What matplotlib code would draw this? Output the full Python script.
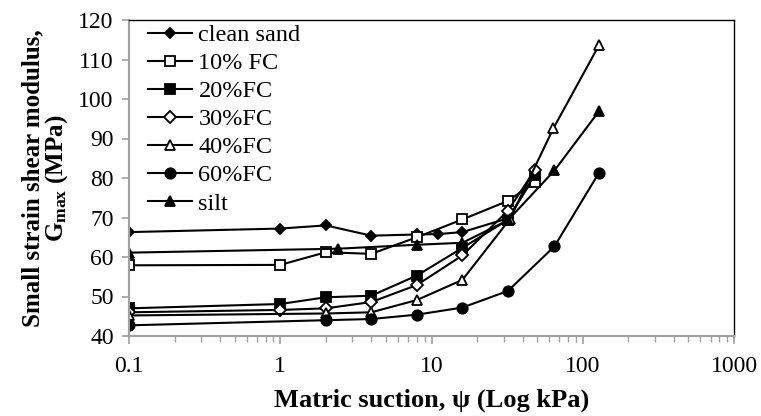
import matplotlib
matplotlib.use("Agg")
import matplotlib.pyplot as plt
from matplotlib.ticker import LogLocator, FixedLocator, NullFormatter

# ---- data ----
labels = ["clean sand", "10% FC", "20%FC", "30%FC", "40%FC", "60%FC", "silt"]

x_clean = [0.1, 1, 2, 4, 8, 11, 16, 32, 48]
y_clean = [66.3, 67.2, 68.0, 65.4, 65.7, 65.8, 66.3, 69.8, 80.3]

x_fc10 = [0.1, 1, 2, 4, 8, 16, 32, 48]
y_fc10 = [57.9, 58.0, 61.2, 60.8, 65.0, 69.5, 74.2, 78.9]

x_fc20 = [0.1, 1, 2, 4, 8, 16, 32, 48]
y_fc20 = [47.0, 48.1, 49.8, 50.2, 55.3, 62.3, 69.4, 80.8]

x_fc30 = [0.1, 1, 2, 4, 8, 16, 32, 48]
y_fc30 = [46.0, 46.6, 47.0, 48.6, 52.9, 60.4, 71.7, 81.9]

x_fc40 = [0.1, 2, 4, 8, 16, 33, 64, 128]
y_fc40 = [45.2, 45.7, 46.0, 49.1, 54.2, 69.6, 92.6, 113.6]

x_fc60 = [0.1, 2, 4, 8, 16, 32, 65, 128]
y_fc60 = [42.7, 44.0, 44.3, 45.4, 47.2, 51.4, 62.7, 81.3]

x_silt = [0.1, 2.4, 8, 16, 32, 65, 128]
y_silt = [61.1, 62.1, 63.1, 63.6, 69.3, 81.9, 96.9]

xs = [x_clean, x_fc10, x_fc20, x_fc30, x_fc40, x_fc60, x_silt]
ys = [y_clean, y_fc10, y_fc20, y_fc30, y_fc40, y_fc60, y_silt]
markers = ["D", "s", "s", "D", "^", "o", "^"]
fills = ["k", "w", "k", "w", "w", "k", "k"]
msizes = [5.5, 7, 7, 6, 7, 7.5, 7.5]

x_ticks = [0.1, 1, 10, 100, 1000]
x_ticklabels = ["0.1", "1", "10", "100", "1000"]
y_ticks = [40, 50, 60, 70, 80, 90, 100, 110, 120]

plt.rcParams["font.family"] = ["Liberation Serif", "DejaVu Serif"]
plt.rcParams["mathtext.fontset"] = "custom"
plt.rcParams["mathtext.rm"] = "Liberation Serif"
plt.rcParams["mathtext.bf"] = "Liberation Serif:bold"

fig = plt.figure(figsize=(7.61, 4.16), dpi=100)
ax = fig.add_axes([129/761, 1 - 336/416, 605/761, 316/416])

for x, y, m, f, ms, lab in zip(xs, ys, markers, fills, msizes, labels):
    ax.plot(x, y, color="k", lw=1.5, marker=m, markersize=ms,
            markerfacecolor=f, markeredgecolor="k", markeredgewidth=1.3,
            label=lab)

ax.set_xscale("log")
ax.set_xlim(0.1, 1000)
ax.set_ylim(40, 120)
ax.xaxis.set_major_locator(FixedLocator(x_ticks))
ax.set_xticklabels(x_ticklabels)
ax.xaxis.set_minor_locator(LogLocator(base=10, subs=range(2, 10)))
ax.xaxis.set_minor_formatter(NullFormatter())
ax.set_yticks(y_ticks)

grey = "#a0a0a0"
for s in ["left", "bottom"]:
    ax.spines[s].set_color(grey)
    ax.spines[s].set_linewidth(1.5)
for s in ["top", "right"]:
    ax.spines[s].set_color("k")
    ax.spines[s].set_linewidth(1.0)

ax.tick_params(axis="y", which="major", direction="out", color=grey,
               width=1.2, length=5, labelsize=17, pad=6)
ax.tick_params(axis="x", which="major", direction="out", color=grey,
               width=1.2, length=6, labelsize=17, pad=8.5)
ax.tick_params(axis="x", which="minor", direction="out", color=grey,
               width=1.0, length=4)
ax.tick_params(axis="y", which="minor", left=False)

ax.set_xlabel(r"Matric suction, ψ (Log kPa)", fontsize=19, fontweight="bold",
              labelpad=8)
ax.set_ylabel("Small strain shear modulus,\n" + r"$\mathbf{G_{max}}$ (MPa)",
              fontsize=18, fontweight="bold", labelpad=6, linespacing=0.95)

leg = ax.legend(loc="upper left", bbox_to_anchor=(0.028, 0.995), frameon=False,
                fontsize=17.5, handlelength=1.81, handletextpad=0.25,
                labelspacing=0.25, borderpad=0.1, borderaxespad=0.0)

fig.savefig("out.png", dpi=100)
